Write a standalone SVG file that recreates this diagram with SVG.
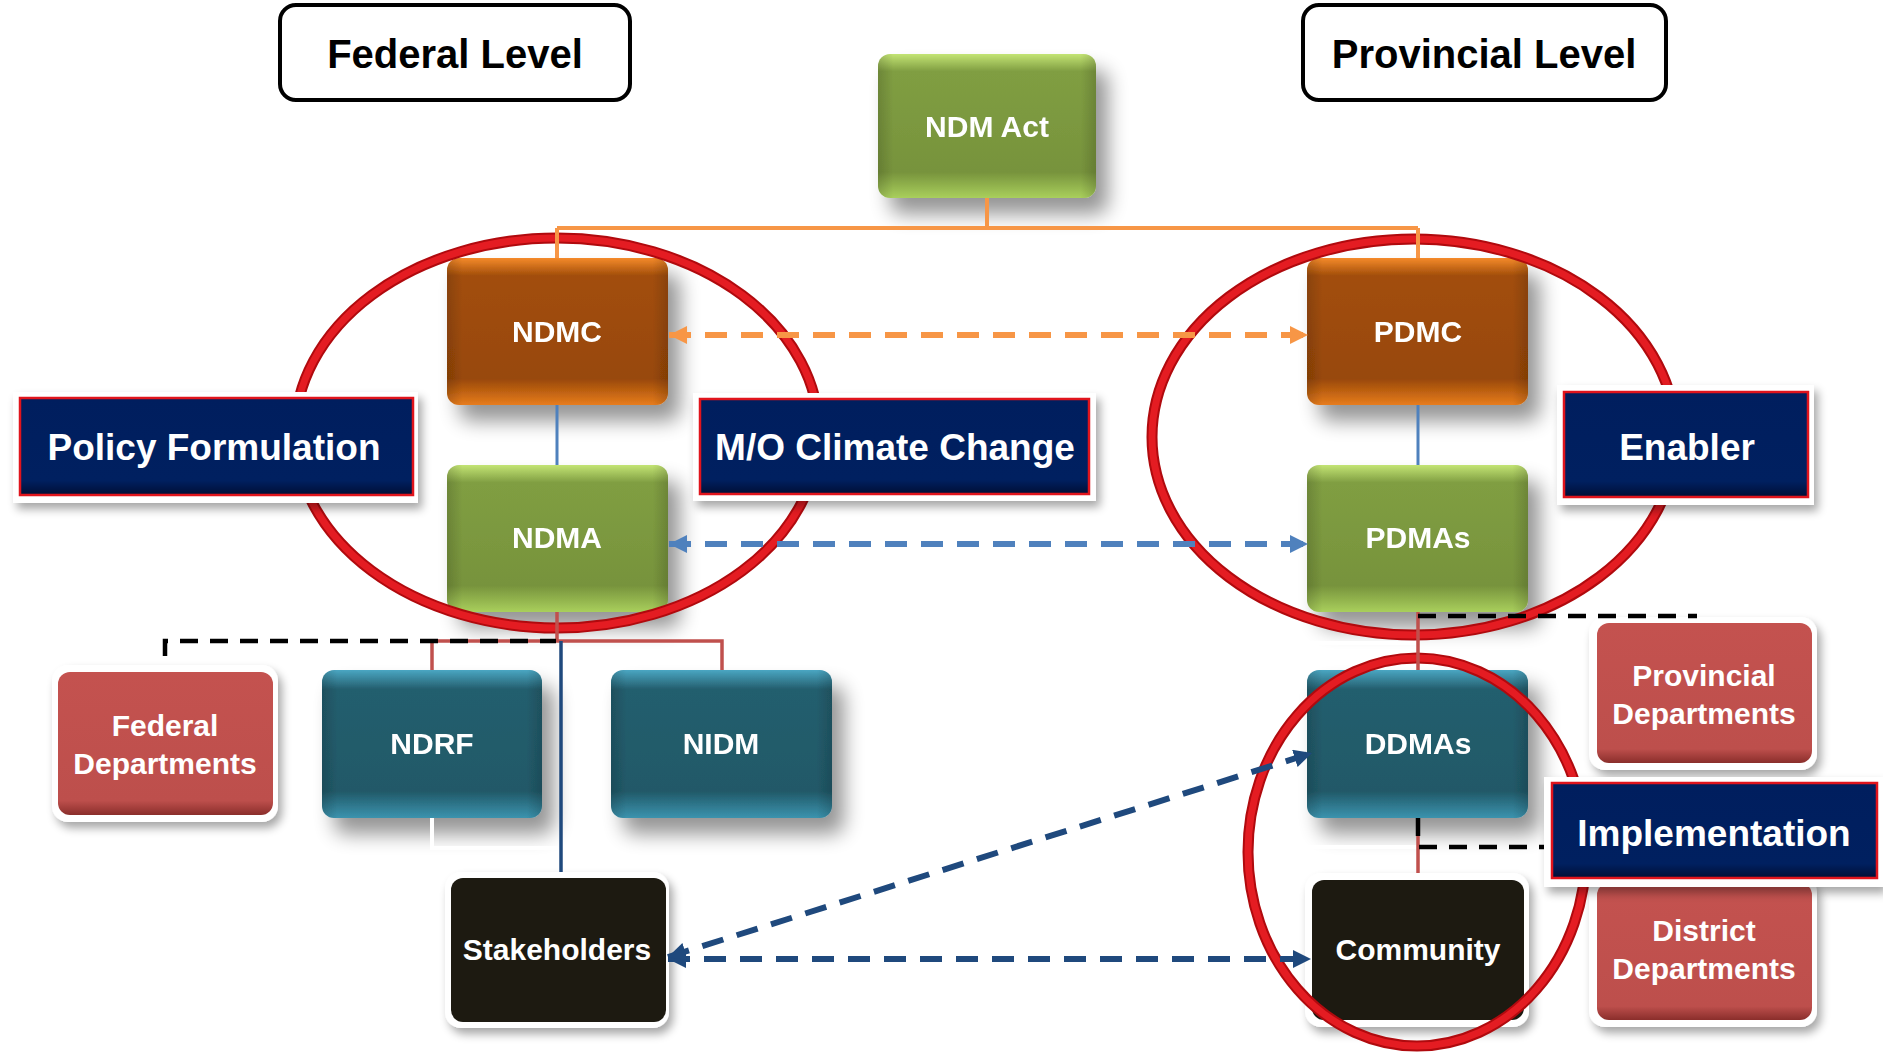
<svg xmlns="http://www.w3.org/2000/svg" width="1883" height="1052" viewBox="0 0 1883 1052">
<style>
.t{font-family:"Liberation Sans",Arial,sans-serif;font-weight:bold;fill:#fff;text-anchor:middle}
.bx{font-size:30px}
.lb{font-size:37px}
.lv{font-size:40px;fill:#000}
.frame{fill:#fff}
.navy{fill:url(#gNavy);stroke:#E0141C;stroke-width:2.5}
.ring1{fill:none;stroke:#B00A0E;stroke-width:11}
.ring2{fill:none;stroke:#E41C22;stroke-width:7}
.solid{fill:none}
.dash{fill:none;stroke-width:6;stroke-dasharray:22 14}
.bdash{fill:none;stroke:#000;stroke-width:4.5;stroke-dasharray:18 12}
</style>
<defs>
<filter id="sh" x="-20%" y="-20%" width="160%" height="170%">
<feGaussianBlur in="SourceAlpha" stdDeviation="10"/>
<feOffset dx="12" dy="16" result="o"/>
<feComponentTransfer><feFuncA type="linear" slope="0.42"/></feComponentTransfer>
<feMerge><feMergeNode/><feMergeNode in="SourceGraphic"/></feMerge>
</filter>
<filter id="sh2" x="-20%" y="-20%" width="150%" height="160%">
<feGaussianBlur in="SourceAlpha" stdDeviation="5"/>
<feOffset dx="4" dy="6" result="o"/>
<feComponentTransfer><feFuncA type="linear" slope="0.35"/></feComponentTransfer>
<feMerge><feMergeNode/><feMergeNode in="SourceGraphic"/></feMerge>
</filter>
<linearGradient id="gOrange" x1="0" y1="0" x2="0" y2="1">
<stop offset="0" stop-color="#F58A2A"/><stop offset="0.12" stop-color="#A24E0A"/><stop offset="0.82" stop-color="#984807"/><stop offset="1" stop-color="#E77C1C"/>
</linearGradient>
<linearGradient id="gGreen" x1="0" y1="0" x2="0" y2="1">
<stop offset="0" stop-color="#C3E474"/><stop offset="0.12" stop-color="#809E42"/><stop offset="0.82" stop-color="#77933C"/><stop offset="1" stop-color="#A9CF5C"/>
</linearGradient>
<linearGradient id="gTeal" x1="0" y1="0" x2="0" y2="1">
<stop offset="0" stop-color="#4AA6C2"/><stop offset="0.13" stop-color="#245E6E"/><stop offset="0.82" stop-color="#215968"/><stop offset="1" stop-color="#3B93AE"/>
</linearGradient>
<linearGradient id="gRed" x1="0" y1="0" x2="0" y2="1">
<stop offset="0" stop-color="#C4524F"/><stop offset="0.9" stop-color="#BD4F4C"/><stop offset="1" stop-color="#8A2E2B"/>
</linearGradient>
<linearGradient id="gNavy" x1="0" y1="0" x2="0" y2="1">
<stop offset="0" stop-color="#001E5E"/><stop offset="0.85" stop-color="#002060"/><stop offset="1" stop-color="#000E35"/>
</linearGradient>
<linearGradient id="gSide" x1="0" y1="0" x2="1" y2="0">
<stop offset="0" stop-color="#000" stop-opacity="0.15"/><stop offset="0.07" stop-color="#000" stop-opacity="0"/><stop offset="0.93" stop-color="#000" stop-opacity="0"/><stop offset="1" stop-color="#000" stop-opacity="0.15"/>
</linearGradient>
<marker id="aO" markerUnits="userSpaceOnUse" markerWidth="20" markerHeight="18" refX="18" refY="9" orient="auto-start-reverse"><path d="M0,0 L18,9 L0,18 z" fill="#F79646"/></marker>
<marker id="aB" markerUnits="userSpaceOnUse" markerWidth="20" markerHeight="18" refX="18" refY="9" orient="auto-start-reverse"><path d="M0,0 L18,9 L0,18 z" fill="#4F81BD"/></marker>
<marker id="aD" markerUnits="userSpaceOnUse" markerWidth="20" markerHeight="18" refX="18" refY="9" orient="auto-start-reverse"><path d="M0,0 L18,9 L0,18 z" fill="#1F497D"/></marker>
</defs>
<rect width="1883" height="1052" fill="#fff"/>

<g id="federal-level">
<rect x="280" y="5" width="350" height="95" rx="16" fill="#fff" stroke="#000" stroke-width="4"/>
<text class="t lv" x="455" y="68">Federal Level</text>
</g>
<g id="provincial-level">
<rect x="1303" y="5" width="363" height="95" rx="16" fill="#fff" stroke="#000" stroke-width="4"/>
<text class="t lv" x="1484" y="68">Provincial Level</text>
</g>

<g id="ndm-act" filter="url(#sh)">
<rect x="878" y="54" width="218" height="144" rx="12" fill="url(#gGreen)"/>
<rect x="878" y="54" width="218" height="144" rx="12" fill="url(#gSide)"/>
<text class="t bx" x="987" y="137">NDM Act</text>
</g>
<g id="ndmc" filter="url(#sh)">
<rect x="447" y="258" width="221" height="147" rx="12" fill="url(#gOrange)"/>
<rect x="447" y="258" width="221" height="147" rx="12" fill="url(#gSide)"/>
<text class="t bx" x="557" y="342">NDMC</text>
</g>
<g id="pdmc" filter="url(#sh)">
<rect x="1307" y="258" width="221" height="147" rx="12" fill="url(#gOrange)"/>
<rect x="1307" y="258" width="221" height="147" rx="12" fill="url(#gSide)"/>
<text class="t bx" x="1418" y="342">PDMC</text>
</g>
<g id="ndma" filter="url(#sh)">
<rect x="447" y="465" width="221" height="147" rx="12" fill="url(#gGreen)"/>
<rect x="447" y="465" width="221" height="147" rx="12" fill="url(#gSide)"/>
<text class="t bx" x="557" y="548">NDMA</text>
</g>
<g id="pdmas" filter="url(#sh)">
<rect x="1307" y="465" width="221" height="147" rx="12" fill="url(#gGreen)"/>
<rect x="1307" y="465" width="221" height="147" rx="12" fill="url(#gSide)"/>
<text class="t bx" x="1418" y="548">PDMAs</text>
</g>
<g id="ndrf" filter="url(#sh)">
<rect x="322" y="670" width="220" height="148" rx="12" fill="url(#gTeal)"/>
<rect x="322" y="670" width="220" height="148" rx="12" fill="url(#gSide)"/>
<text class="t bx" x="432" y="754">NDRF</text>
</g>
<g id="nidm" filter="url(#sh)">
<rect x="611" y="670" width="221" height="148" rx="12" fill="url(#gTeal)"/>
<rect x="611" y="670" width="221" height="148" rx="12" fill="url(#gSide)"/>
<text class="t bx" x="721" y="754">NIDM</text>
</g>
<g id="ddmas" filter="url(#sh)">
<rect x="1307" y="670" width="221" height="148" rx="12" fill="url(#gTeal)"/>
<rect x="1307" y="670" width="221" height="148" rx="12" fill="url(#gSide)"/>
<text class="t bx" x="1418" y="754">DDMAs</text>
</g>
<g id="federal-departments">
<rect class="frame" x="52" y="665" width="226" height="157" rx="16" filter="url(#sh2)"/>
<rect x="58" y="672" width="215" height="143" rx="12" fill="url(#gRed)"/>
<text class="t bx" x="165" y="736">Federal</text>
<text class="t bx" x="165" y="774">Departments</text>
</g>
<g id="provincial-departments">
<rect class="frame" x="1589" y="617" width="228" height="153" rx="16" filter="url(#sh2)"/>
<rect x="1597" y="623" width="215" height="140" rx="12" fill="url(#gRed)"/>
<text class="t bx" x="1704" y="686">Provincial</text>
<text class="t bx" x="1704" y="724">Departments</text>
</g>
<g id="district-departments">
<rect class="frame" x="1589" y="877" width="228" height="150" rx="16" filter="url(#sh2)"/>
<rect x="1597" y="883" width="215" height="137" rx="12" fill="url(#gRed)"/>
<text class="t bx" x="1704" y="941">District</text>
<text class="t bx" x="1704" y="979">Departments</text>
</g>
<g id="stakeholders">
<rect class="frame" x="445" y="872" width="224" height="156" rx="16" filter="url(#sh2)"/>
<rect x="451" y="878" width="215" height="144" rx="12" fill="#1D1A11"/>
<text class="t bx" x="557" y="960">Stakeholders</text>
</g>
<g id="community">
<rect class="frame" x="1305" y="873" width="224" height="154" rx="16" filter="url(#sh2)"/>
<rect x="1312" y="880" width="212" height="140" rx="12" fill="#1D1A11"/>
<text class="t bx" x="1418" y="960">Community</text>
</g>

<g id="rings">
<ellipse class="ring1" cx="557" cy="433" rx="262" ry="195"/>
<ellipse class="ring2" cx="557" cy="433" rx="262" ry="195"/>
<ellipse class="ring1" cx="1414" cy="437" rx="262" ry="198"/>
<ellipse class="ring2" cx="1414" cy="437" rx="262" ry="198"/>
<ellipse class="ring1" cx="1417" cy="852" rx="169" ry="194"/>
<ellipse class="ring2" cx="1417" cy="852" rx="169" ry="194"/>
</g>

<g id="connectors">
<path class="solid" stroke="#F79646" stroke-width="4" d="M987,198 V228 M557,228 H1418 M557,228 V258 M1418,228 V258"/>
<path class="solid" stroke="#4F81BD" stroke-width="3" d="M557,405 V465 M1418,405 V465"/>
<path class="solid" stroke="#C0504D" stroke-width="3.5" d="M557,612 V641 M432,670 V641 H722 V670 M1418,612 V670 M1418,818 V873"/>
<path class="solid" stroke="#1F497D" stroke-width="3.5" d="M561,641 V872"/>
<path class="solid" stroke="#fff" stroke-width="4" d="M432,818 V848 H558 M1300,643 H1416 M1300,847 H1416"/>
<path class="bdash" d="M165,656 V641 H556"/>
<path class="bdash" d="M1418,616 H1697"/>
<path class="bdash" d="M1418,818 V847 H1544"/>
<path class="dash" stroke="#F79646" d="M669,335 H1308" marker-start="url(#aO)" marker-end="url(#aO)"/>
<path class="dash" stroke="#4F81BD" d="M669,544 H1308" marker-start="url(#aB)" marker-end="url(#aB)"/>
<path class="dash" stroke="#1F497D" d="M668,959 H1311" marker-start="url(#aD)" marker-end="url(#aD)"/>
<path class="dash" stroke="#1F497D" d="M668,957 L1312,753" marker-start="url(#aD)" marker-end="url(#aD)"/>
</g>

<g id="policy-formulation">
<rect class="frame" x="13" y="392" width="405" height="111" filter="url(#sh2)"/>
<rect class="navy" x="20" y="398" width="393" height="97"/>
<text class="t lb" x="214" y="460">Policy Formulation</text>
</g>
<g id="mo-climate-change">
<rect class="frame" x="693" y="393" width="403" height="108" filter="url(#sh2)"/>
<rect class="navy" x="700" y="399" width="389" height="95"/>
<text class="t lb" x="895" y="460">M/O Climate Change</text>
</g>
<g id="enabler">
<rect class="frame" x="1557" y="385" width="257" height="120" filter="url(#sh2)"/>
<rect class="navy" x="1564" y="392" width="244" height="105"/>
<text class="t lb" x="1687" y="460">Enabler</text>
</g>
<g id="implementation">
<rect class="frame" x="1544" y="777" width="339" height="110" filter="url(#sh2)"/>
<rect class="navy" x="1552" y="783" width="325" height="95"/>
<text class="t lb" x="1714" y="846">Implementation</text>
</g>
</svg>
